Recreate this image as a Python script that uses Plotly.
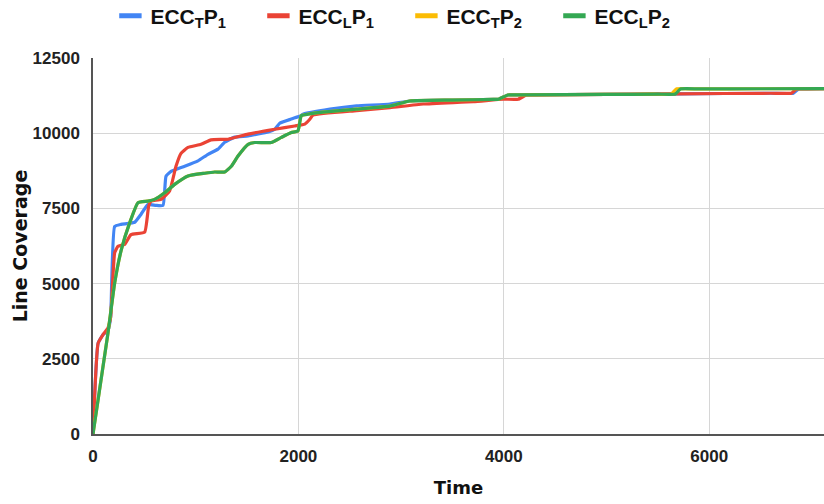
import plotly.graph_objects as go

# Line coverage over time for the four configurations
t_tp1 = [0, 50, 97, 146, 172, 211, 273, 406, 467, 535, 613, 682, 711, 760, 893, 1022, 1120, 1217,
         1282, 1380, 1510, 1705, 1770, 1818, 1930, 2025, 2045, 2308, 2567, 2892, 3085, 3500, 3900,
         3950, 4040, 4150, 5000, 5700, 6600, 6820, 6870, 6950, 7200]
v_tp1 = [0, 3020, 3300, 3450, 3900, 6900, 6970, 7040, 7300, 7630, 7600, 7600, 8570, 8730, 8900, 9080,
         9300, 9470, 9700, 9870, 9910, 10040, 10130, 10330, 10470, 10580, 10630, 10800, 10910, 10970,
         11070, 11100, 11125, 11130, 11270, 11275, 11290, 11310, 11328, 11330, 11470, 11472, 11480]

t_lp1 = [0, 50, 97, 146, 172, 211, 243, 308, 370, 503, 542, 565, 662, 746, 808, 857, 925, 1052, 1149,
         1315, 1510, 1770, 1964, 2062, 2113, 2142, 2567, 2892, 3216, 3703, 3995, 4140, 4220, 4320,
         5000, 5700, 6600, 6800, 6850, 6950, 7200]
v_lp1 = [0, 3020, 3300, 3530, 3900, 6030, 6240, 6300, 6630, 6710, 7580, 7740, 7800, 8080, 8900, 9330,
         9530, 9630, 9780, 9800, 9970, 10130, 10240, 10300, 10470, 10600, 10750, 10850, 10970, 11050,
         11130, 11130, 11270, 11275, 11290, 11310, 11328, 11330, 11470, 11472, 11480]

t_lp2 = [0, 146, 211, 276, 357, 438, 535, 600, 698, 795, 925, 1088, 1185, 1282, 1347, 1412, 1510,
         1575, 1736, 1834, 1931, 1996, 2028, 2093, 2240, 2567, 2892, 3085, 3500, 3900, 3950, 4040,
         4150, 5000, 5500, 5670, 5720, 5900, 6500, 7200]
v_lp2 = [0, 3360, 5020, 6130, 7020, 7690, 7740, 7800, 8020, 8300, 8580, 8670, 8710, 8710, 8900, 9240,
         9630, 9690, 9690, 9860, 10020, 10080, 10580, 10630, 10700, 10800, 10900, 11070, 11100, 11125,
         11130, 11270, 11275, 11290, 11298, 11300, 11470, 11472, 11478, 11480]

t_tp2 = [0, 146, 211, 276, 357, 438, 535, 600, 698, 795, 925, 1088, 1185, 1282, 1347, 1412, 1510,
         1575, 1736, 1834, 1931, 1996, 2028, 2093, 2240, 2567, 2892, 3085, 3500, 3900, 3950, 4040,
         4150, 5000, 5460, 5630, 5680, 5860, 6500, 7200]
v_tp2 = [0, 3360, 5020, 6130, 7020, 7690, 7740, 7800, 8020, 8300, 8580, 8670, 8710, 8710, 8900, 9240,
         9630, 9690, 9690, 9860, 10020, 10080, 10580, 10630, 10700, 10800, 10900, 11070, 11100, 11125,
         11130, 11270, 11275, 11290, 11298, 11300, 11470, 11472, 11478, 11480]

names = ["<b>ECC<sub>T</sub>P<sub>1</sub></b>", "<b>ECC<sub>L</sub>P<sub>1</sub></b>",
         "<b>ECC<sub>T</sub>P<sub>2</sub></b>", "<b>ECC<sub>L</sub>P<sub>2</sub></b>"]
colors = ["#4285F4", "#EA4335", "#FBBC04", "#34A853"]

y_ticks = [0, 2500, 5000, 7500, 10000, 12500]
x_ticks = [0, 2000, 4000, 6000]

series = [(t_tp1, v_tp1, 0), (t_lp1, v_lp1, 1), (t_tp2, v_tp2, 2), (t_lp2, v_lp2, 3)]

fig = go.Figure()
for t, v, i in series:
    fig.add_trace(go.Scatter(x=t, y=v, mode="lines",
                             line=dict(color=colors[i], width=3.2, shape="spline", smoothing=0.4),
                             showlegend=False, hoverinfo="skip"))

# legend entries drawn as short thick bars
for i in range(4):
    fig.add_trace(go.Scatter(x=[None], y=[None], mode="markers", name=names[i],
                             marker=dict(symbol="line-ew", size=16,
                                         line=dict(color=colors[i], width=6))))

tick_font = dict(family="Liberation Sans", size=17, color="#222222")
title_font = dict(family="DejaVu Sans", size=19, color="#111111")

fig.update_layout(
    width=824, height=504,
    margin=dict(l=93, r=0, t=58, b=70),
    paper_bgcolor="white", plot_bgcolor="white",
    legend=dict(orientation="h", xref="container", yref="container",
                x=0.134, y=1 - 16 / 504, xanchor="left", yanchor="middle",
                entrywidth=103, entrywidthmode="pixels",
                font=dict(family="Liberation Sans", size=21, color="#111111")),
    xaxis=dict(range=[0, 7118], tickvals=x_ticks, ticktext=[f"<b>{v}</b>" for v in x_ticks],
               showgrid=True, gridcolor="#d6d6d6", gridwidth=1, zeroline=False,
               showline=True, linecolor="#555555", linewidth=1.5,
               tickfont=tick_font, ticklabelstandoff=6,
               title=dict(text="<b>Time</b>", font=dict(family="DejaVu Sans", size=18, color="#111111"),
                          standoff=16)),
    yaxis=dict(range=[0, 12500], tickvals=y_ticks, ticktext=[f"<b>{v}</b>" for v in y_ticks],
               showgrid=True, gridcolor="#d6d6d6", gridwidth=1, zeroline=False,
               showline=True, linecolor="#555555", linewidth=1.5,
               tickfont=tick_font, ticklabelstandoff=8,
               title=dict(text="<b>Line Coverage</b>", font=title_font, standoff=0)),
)

fig.write_html("out.html")
